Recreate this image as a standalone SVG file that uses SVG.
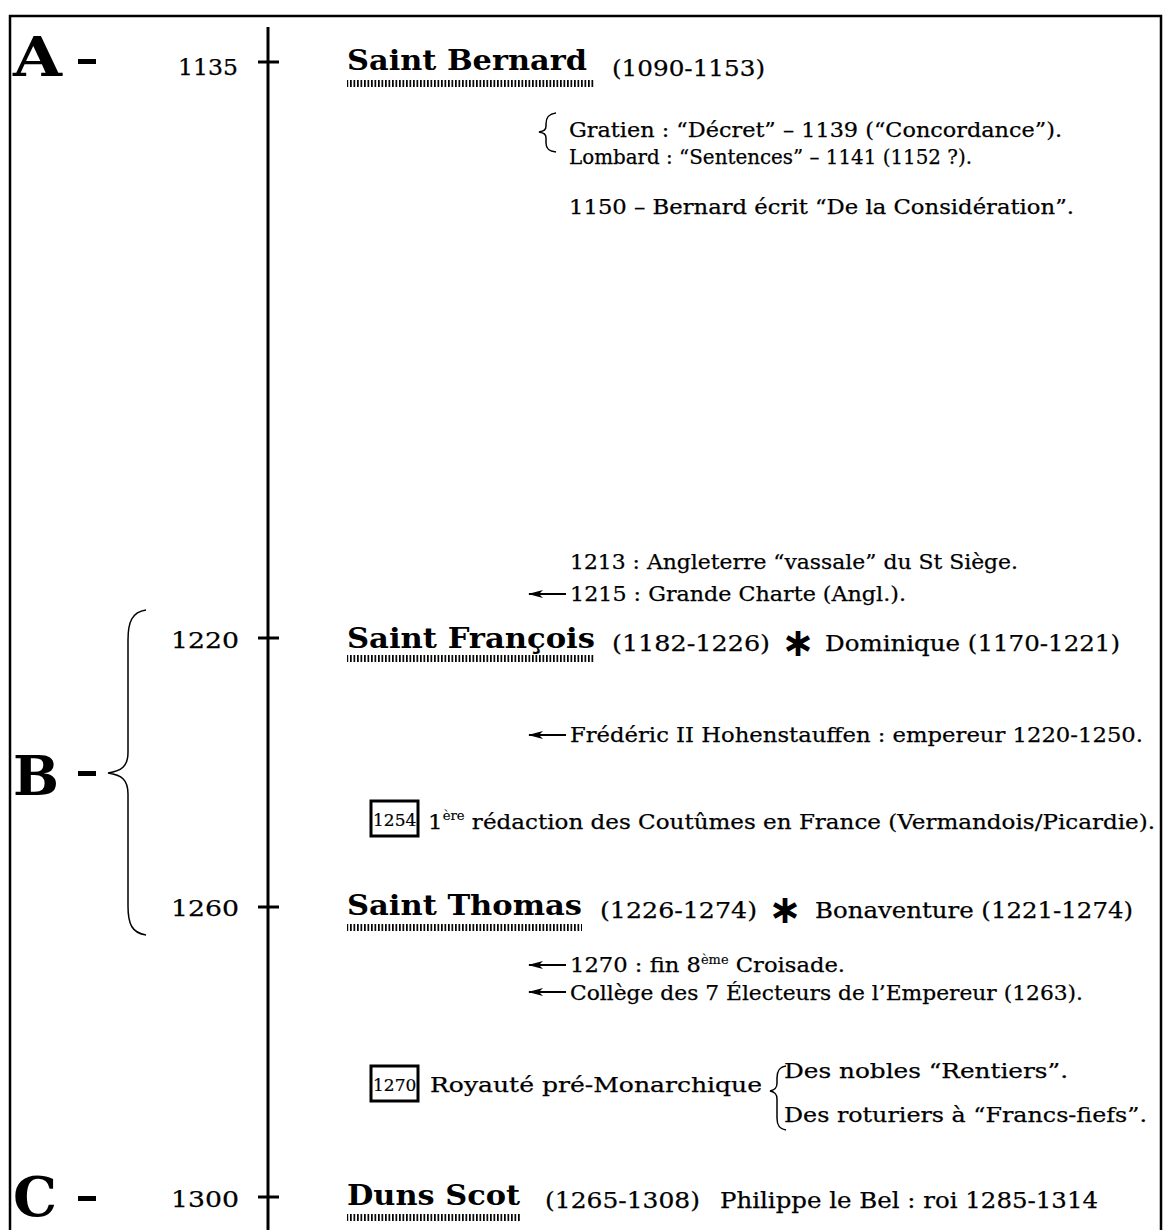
<svg xmlns="http://www.w3.org/2000/svg" width="1163" height="1230" viewBox="0 0 1163 1230">
  <defs>
    <pattern id="hatch" patternUnits="userSpaceOnUse" width="3.5" height="8">
      <rect x="0" y="0" width="1.7" height="8" fill="#000"/>
    </pattern>
    <marker id="arrowL" viewBox="0 0 15 9" refX="14" refY="4.5" markerWidth="15" markerHeight="9" markerUnits="userSpaceOnUse" orient="auto">
      <path d="M15,4.5 L0,0.5 L4,4.5 L0,8.5 Z" fill="#000"/>
    </marker>
  </defs>
  <style>
    text { font-family: "DejaVu Serif", "Liberation Serif", serif; fill: #000; }
    .big { font-size: 54px; font-weight: bold; }
    .year { font-size: 23px; stroke: #000; stroke-width: 0.25px; }
    .name { font-size: 28px; font-weight: bold; }
    .t { font-size: 22px; stroke: #000; stroke-width: 0.25px; }
    .t22 { font-size: 21px; stroke: #000; stroke-width: 0.25px; }
    .num { font-size: 17px; stroke: #000; stroke-width: 0.2px; }
    .sup { font-size: 12px; stroke-width: 0.15px; }
    .star { font-family: "DejaVu Sans", sans-serif; font-size: 40px; font-weight: bold; text-anchor: middle; }
    .dash { fill: #000; }
    .axis { stroke: #000; stroke-width: 3; fill: none; }
    .brace { stroke: #000; stroke-width: 1.5; fill: none; }
    .box { stroke: #000; stroke-width: 3; fill: none; }
    .conn { stroke: #000; stroke-width: 1.8; fill: none; }
  </style>

  <rect width="1163" height="1230" fill="#fff"/>
  <!-- outer frame -->
  <path d="M10,1232 V16 H1161 V1232" stroke="#000" stroke-width="2.5" fill="none"/>

  <!-- period letters -->
  <g id="period-A">
    <text class="big" x="13" y="76" textLength="49" lengthAdjust="spacingAndGlyphs">A</text>
    <rect class="dash" x="78" y="59" width="18" height="5"/>
  </g>
  <g id="period-B">
    <text class="big" x="13" y="795" textLength="46" lengthAdjust="spacingAndGlyphs">B</text>
    <rect class="dash" x="78" y="771" width="18" height="5"/>
    <path class="brace" d="M146,610 C132,612 128,622 128,640 V752 C128,766 122,771 108,773 C122,775 128,780 128,794 V906 C128,924 132,933 146,935"/>
  </g>
  <g id="period-C">
    <text class="big" x="13" y="1216" textLength="44" lengthAdjust="spacingAndGlyphs">C</text>
    <rect class="dash" x="78" y="1196" width="18" height="5"/>
  </g>

  <!-- timeline axis with ticks -->
  <g id="timeline">
    <line class="axis" x1="268" y1="27" x2="268" y2="1230"/>
    <line class="axis" x1="258" y1="62" x2="279" y2="62" stroke-width="4"/>
    <line class="axis" x1="258" y1="638" x2="279" y2="638" stroke-width="4"/>
    <line class="axis" x1="258" y1="907" x2="279" y2="907" stroke-width="4"/>
    <line class="axis" x1="258" y1="1197" x2="279" y2="1197" stroke-width="4"/>
    <text class="year" x="178" y="75" textLength="60" lengthAdjust="spacingAndGlyphs">1135</text>
    <text class="year" x="171" y="648" textLength="68" lengthAdjust="spacingAndGlyphs">1220</text>
    <text class="year" x="171" y="916" textLength="68" lengthAdjust="spacingAndGlyphs">1260</text>
    <text class="year" x="171" y="1207" textLength="68" lengthAdjust="spacingAndGlyphs">1300</text>
  </g>

  <!-- Saint Bernard -->
  <g id="bernard">
    <text class="name" x="347" y="70" textLength="240" lengthAdjust="spacingAndGlyphs">Saint Bernard</text>
    <rect x="347" y="80" width="248" height="7" fill="url(#hatch)"/>
    <text class="t" x="612" y="76" textLength="153" lengthAdjust="spacingAndGlyphs">(1090-1153)</text>
  </g>

  <g id="bernard-notes">
    <path class="brace" d="M556,113 C548,114 546,118 546,124 V126 C546,130 544,131 539,132 C544,133 546,134 546,138 V143 C546,148 548,151 556,152"/>
    <text class="t22" x="569" y="137" textLength="493" lengthAdjust="spacingAndGlyphs">Gratien : “Décret” – 1139 (“Concordance”).</text>
    <text class="t22" x="569" y="164" textLength="403" lengthAdjust="spacingAndGlyphs">Lombard : “Sentences” – 1141 (1152 ?).</text>
    <text class="t22" x="569" y="214" textLength="505" lengthAdjust="spacingAndGlyphs">1150 – Bernard écrit “De la Considération”.</text>
  </g>

  <g id="angleterre">
    <text class="t22" x="570" y="569" textLength="448" lengthAdjust="spacingAndGlyphs">1213 : Angleterre “vassale” du St Siège.</text>
    <text class="t22" x="570" y="601" textLength="336" lengthAdjust="spacingAndGlyphs">1215 : Grande Charte (Angl.).</text>
  </g>

  <!-- Saint François -->
  <g id="francois">
    <text class="name" x="347" y="648" textLength="248" lengthAdjust="spacingAndGlyphs">Saint François</text>
    <rect x="347" y="655" width="248" height="7" fill="url(#hatch)"/>
    <text class="t" x="612" y="651" textLength="158" lengthAdjust="spacingAndGlyphs">(1182-1226)</text>
    <text class="star" x="798" y="656">∗</text>
    <text class="t" x="825" y="651" textLength="295" lengthAdjust="spacingAndGlyphs">Dominique (1170-1221)</text>
  </g>

  <g id="frederic">
    <text class="t22" x="570" y="742" textLength="573" lengthAdjust="spacingAndGlyphs">Frédéric II Hohenstauffen : empereur 1220-1250.</text>
  </g>

  <g id="coutumes">
    <rect class="box" x="371" y="801" width="47" height="35"/>
    <text class="num" x="373" y="826">1254</text>
    <text class="t22" x="428" y="829" textLength="727" lengthAdjust="spacingAndGlyphs">1<tspan class="sup" dy="-9">ère</tspan><tspan dy="9"> rédaction des Coutûmes en France (Vermandois/Picardie).</tspan></text>
  </g>

  <!-- Saint Thomas -->
  <g id="thomas">
    <text class="name" x="347" y="915" textLength="235" lengthAdjust="spacingAndGlyphs">Saint Thomas</text>
    <rect x="347" y="924" width="235" height="7" fill="url(#hatch)"/>
    <text class="t" x="600" y="918" textLength="157" lengthAdjust="spacingAndGlyphs">(1226-1274)</text>
    <text class="star" x="785" y="923">∗</text>
    <text class="t" x="815" y="918" textLength="318" lengthAdjust="spacingAndGlyphs">Bonaventure (1221-1274)</text>
  </g>

  <g id="croisade">
    <text class="t22" x="570" y="972" textLength="275" lengthAdjust="spacingAndGlyphs">1270 : fin 8<tspan class="sup" dy="-8">ème</tspan><tspan dy="8"> Croisade.</tspan></text>
    <text class="t22" x="570" y="1000" textLength="513" lengthAdjust="spacingAndGlyphs">Collège des 7 Électeurs de l’Empereur (1263).</text>
  </g>

  <g id="royaute">
    <rect class="box" x="371" y="1066" width="47" height="35"/>
    <text class="num" x="373" y="1091">1270</text>
    <text class="t22" x="430" y="1092" textLength="332" lengthAdjust="spacingAndGlyphs">Royauté pré-Monarchique</text>
    <path class="brace" d="M786,1066 C779,1067 777,1071 777,1078 V1083 C777,1088 775,1090 770,1091 C775,1092 777,1094 777,1099 V1118 C777,1125 779,1129 786,1130"/>
    <text class="t22" x="784" y="1078" textLength="284" lengthAdjust="spacingAndGlyphs">Des nobles “Rentiers”.</text>
    <text class="t22" x="784" y="1122" textLength="363" lengthAdjust="spacingAndGlyphs">Des roturiers à “Francs-fiefs”.</text>
  </g>

  <!-- Duns Scot -->
  <g id="scot">
    <text class="name" x="347" y="1205" textLength="173" lengthAdjust="spacingAndGlyphs">Duns Scot</text>
    <rect x="347" y="1214" width="173" height="7" fill="url(#hatch)"/>
    <text class="t" x="545" y="1208" textLength="155" lengthAdjust="spacingAndGlyphs">(1265-1308)</text>
    <text class="t" x="720" y="1208" textLength="378" lengthAdjust="spacingAndGlyphs">Philippe le Bel : roi 1285-1314</text>
  </g>

  <!-- pointer arrows toward the timeline -->
  <g id="connectors">
    <line class="conn" x1="566" y1="594" x2="529" y2="594" marker-end="url(#arrowL)"/>
    <line class="conn" x1="566" y1="735" x2="529" y2="735" marker-end="url(#arrowL)"/>
    <line class="conn" x1="566" y1="965" x2="529" y2="965" marker-end="url(#arrowL)"/>
    <line class="conn" x1="566" y1="992" x2="529" y2="992" marker-end="url(#arrowL)"/>
  </g>
</svg>
